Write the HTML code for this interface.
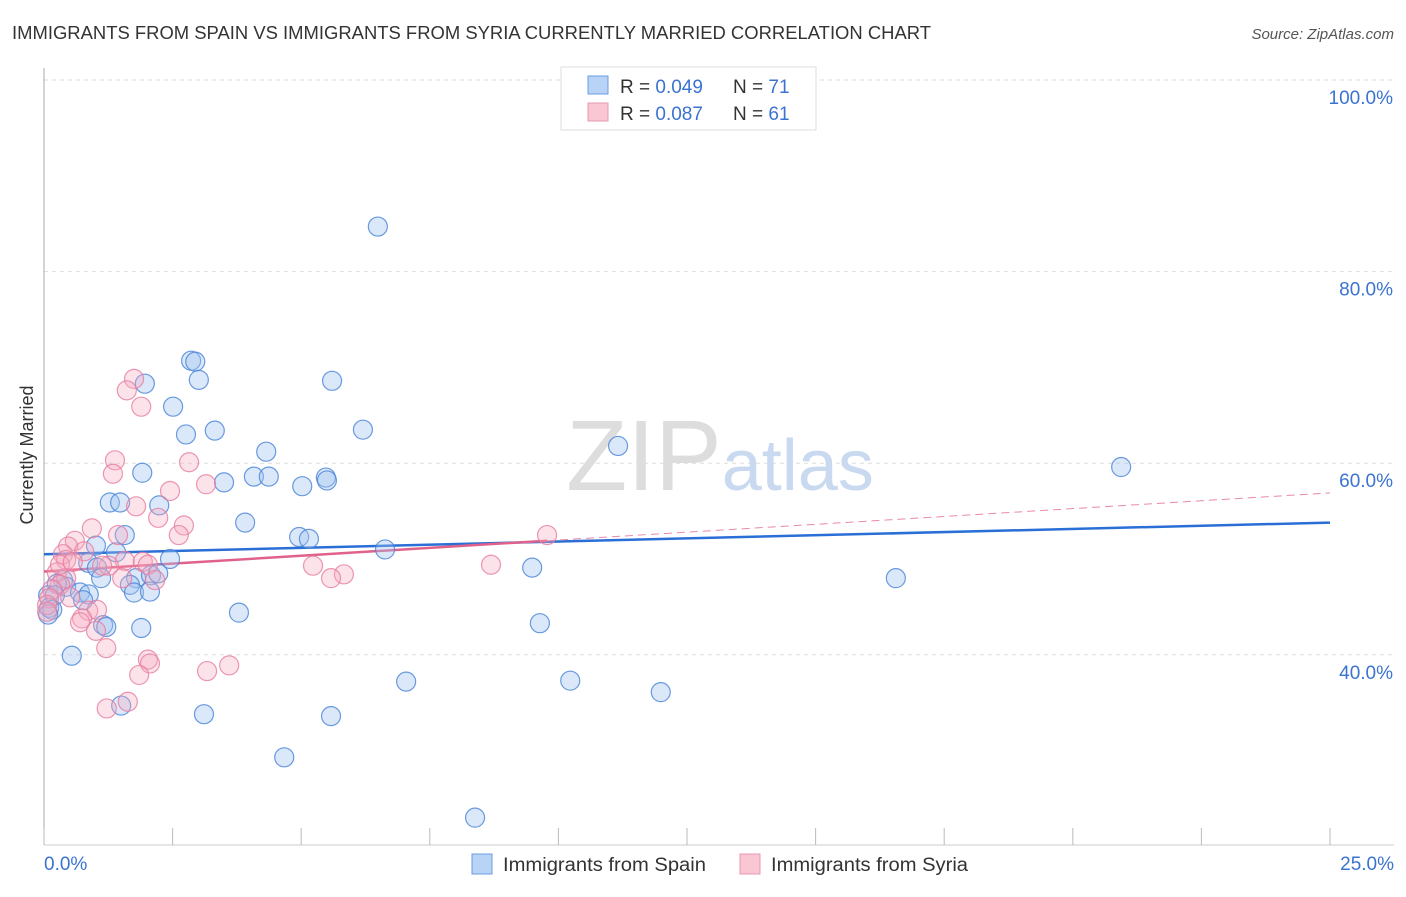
<!DOCTYPE html>
<html><head><meta charset="utf-8"><style>
body{margin:0;background:#fff;font-family:"Liberation Sans",sans-serif}
svg text{font-family:"Liberation Sans",sans-serif}
</style></head><body>
<svg id="chart" width="1406" height="892" xmlns="http://www.w3.org/2000/svg">
<text x="12" y="39" font-size="18" fill="#333" textLength="919" lengthAdjust="spacingAndGlyphs">IMMIGRANTS FROM SPAIN VS IMMIGRANTS FROM SYRIA CURRENTLY MARRIED CORRELATION CHART</text>
<text x="1394" y="39" font-size="15" fill="#555" text-anchor="end" font-style="italic">Source: ZipAtlas.com</text>
<g id="grid"></g>
<text x="720" y="490" font-size="100" fill="#ddd" text-anchor="middle" font-family="Liberation Serif">ZIP<tspan fill="#c9d9f0" font-family="Liberation Sans" font-size="72">atlas</tspan></text>
<g id="trend"></g>
<g id="pts"></g>
<text transform="translate(33,455) rotate(-90)" font-size="18" fill="#333" text-anchor="middle">Currently Married</text>
<g>
<rect x="561" y="67" width="255" height="63" fill="#fff" stroke="#ddd"/>
<rect x="588" y="76" width="20" height="18" fill="#b8d3f5" stroke="#6a9de0"/>
<rect x="588" y="103" width="20" height="18" fill="#f9c6d4" stroke="#ea98b0"/>
<text x="620" y="93" font-size="19" fill="#333">R = <tspan fill="#3b73d1">0.049</tspan><tspan x="733">N = </tspan><tspan fill="#3b73d1">71</tspan></text>
<text x="620" y="120" font-size="19" fill="#333">R = <tspan fill="#3b73d1">0.087</tspan><tspan x="733">N = </tspan><tspan fill="#3b73d1">61</tspan></text>
</g>
<g>
<rect x="472" y="854" width="20" height="20" fill="#b8d3f5" stroke="#6a9de0"/>
<text x="503" y="871" font-size="19" fill="#333" textLength="203" lengthAdjust="spacingAndGlyphs">Immigrants from Spain</text>
<rect x="740" y="854" width="20" height="20" fill="#f9c6d4" stroke="#ea98b0"/>
<text x="771" y="871" font-size="19" fill="#333" textLength="197" lengthAdjust="spacingAndGlyphs">Immigrants from Syria</text>
</g>
</svg>
<script>
const xTicks=[0,25];
const yTicks=[40,60,80,100];
const spainX=[6.49,2.86,2.94,3.01,1.96,5.60,2.51,2.76,3.32,6.20,11.16,4.32,20.94,1.91,4.08,4.37,3.50,5.02,5.48,5.50,1.28,1.48,2.24,3.91,1.57,4.96,5.15,6.63,1.40,2.45,1.01,0.86,9.49,16.56,1.03,1.79,2.08,2.22,1.11,1.67,1.75,2.06,0.37,0.43,0.25,0.08,0.21,0.70,0.87,0.76,0.10,0.16,0.08,1.15,1.21,1.89,3.79,9.64,0.54,7.04,10.23,11.99,3.11,5.58,1.50,4.67,8.38];
const spainY=[84.7,70.7,70.6,68.7,68.3,68.6,65.9,63.0,63.4,63.5,61.8,61.2,59.6,59.0,58.6,58.6,58.0,57.6,58.5,58.2,55.9,55.9,55.6,53.8,52.5,52.3,52.1,51.0,50.7,50.0,51.4,49.6,49.1,48.0,49.1,48.0,48.3,48.5,48.0,47.3,46.5,46.6,47.8,47.1,47.4,46.2,46.2,46.5,46.3,45.7,44.9,44.7,44.2,43.1,42.9,42.8,44.4,43.3,39.9,37.2,37.3,36.1,33.8,33.6,34.7,29.3,23.0];
const syriaX=[1.75,1.61,1.89,1.38,1.34,2.82,3.15,2.45,1.79,2.22,0.93,1.44,2.72,2.62,0.60,0.47,0.78,0.37,0.43,9.78,8.69,5.23,5.83,5.58,1.92,1.57,2.02,1.26,2.16,1.52,0.25,0.43,0.31,0.16,0.10,0.06,0.06,0.86,1.03,0.74,0.70,1.01,1.21,2.02,2.06,1.85,3.17,3.60,1.22,1.63,0.31,0.56,1.13,0.51];
const syriaY=[68.8,67.6,65.9,60.3,58.9,60.1,57.8,57.1,55.5,54.3,53.2,52.5,53.5,52.5,51.9,51.3,50.8,50.5,49.9,52.5,49.4,49.3,48.4,48.0,49.7,49.8,49.4,49.3,47.8,48.0,48.6,48.0,47.3,46.8,45.9,45.2,44.5,44.6,44.7,43.8,43.4,42.5,40.7,39.5,39.1,37.9,38.3,38.9,34.4,35.1,49.4,49.7,49.3,46.0];
const spainTrend=[50.5,53.8];
const syriaTrend=[48.7,56.9];
const syriaSolidEnd=9.78;
const X=v=>44+v/25*1286, Y=v=>80+(100-v)*9.58;
const NS='http://www.w3.org/2000/svg';
function mk(p,t,a){const e=document.createElementNS(NS,t);for(const k in a)e.setAttribute(k,a[k]);p.appendChild(e);return e;}
const g=document.getElementById('grid');
yTicks.forEach(v=>{
 const l=mk(g,'line',{x1:44,x2:1394,y1:Y(v),y2:Y(v),stroke:'#ddd','stroke-dasharray':'4,4'});
 
 
 const t=mk(g,'text',{x:1393,y:Y(v)+24,'font-size':19,fill:'#3b73d1','text-anchor':'end'});
 t.textContent=v.toFixed(1)+'%';
 
 
});
mk(g,'line',{x1:44,x2:44,y1:68,y2:845,stroke:'#aaa'});
mk(g,'line',{x1:44,x2:1394,y1:845,y2:845,stroke:'#ccc'});
for(let i=0;i<=10;i++){const x=X(i*2.5);const tk=mk(g,'line',{x1:x,x2:x,y1:828,y2:845,stroke:'#bbb'});
 
 }
xTicks.forEach((v,i)=>{const t=mk(g,'text',{x:i?1394:44,y:870,'font-size':19,fill:'#3b73d1','text-anchor':i?'end':'start'});
 t.textContent=v.toFixed(1)+'%';
 
 });
const tg=document.getElementById('trend');
const pg=document.getElementById('pts');
function dots(xs,ys,fill,stroke,name){xs.forEach((x,i)=>{const c=mk(pg,'circle',{cx:X(x),cy:Y(ys[i]),r:9.5,fill:fill,stroke:stroke,'stroke-width':1.2});
 
 });}
dots(spainX,spainY,'rgba(160,195,240,0.38)','rgba(70,130,215,0.8)','spain-point');
dots(syriaX,syriaY,'rgba(245,170,192,0.33)','rgba(230,125,160,0.8)','syria-point');
const bl=mk(tg,'line',{x1:X(0),y1:Y(spainTrend[0]),x2:X(25),y2:Y(spainTrend[1]),stroke:'#2a6fd6','stroke-width':2.5});


const sy=v=>syriaTrend[0]+(syriaTrend[1]-syriaTrend[0])*v/25;
const pl=mk(tg,'line',{x1:X(0),y1:Y(sy(0)),x2:X(syriaSolidEnd),y2:Y(sy(syriaSolidEnd)),stroke:'#e0628a','stroke-width':2.5});


const pd=mk(tg,'line',{x1:X(syriaSolidEnd),y1:Y(sy(syriaSolidEnd)),x2:X(25),y2:Y(sy(25)),stroke:'#e88aa5','stroke-width':1,'stroke-dasharray':'8,5'});


</script>
</body></html>
